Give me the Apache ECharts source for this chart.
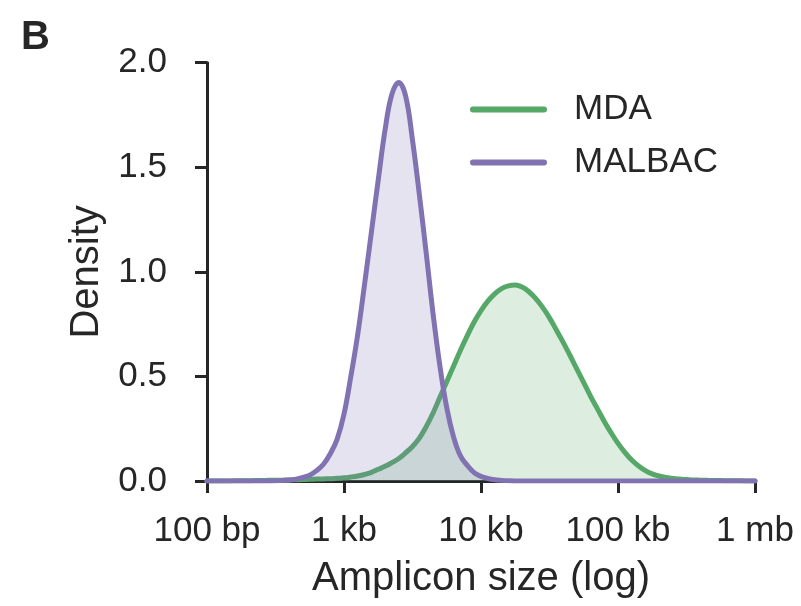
<!DOCTYPE html>
<html>
<head>
<meta charset="utf-8">
<script src="https://cdn.jsdelivr.net/npm/echarts@6/dist/echarts.min.js"></script>
<style>
html,body{margin:0;padding:0;background:#fff;}
#chart{width:801px;height:606px;}
</style>
</head>
<body>
<div id="chart"></div>
<script>
// x positions: log10 of amplicon size (bp)
const logSize = [2.00,2.05,2.10,2.15,2.20,2.25,2.30,2.35,2.40,2.45,
2.50,2.55,2.60,2.65,2.70,2.75,2.80,2.85,2.90,2.95,
3.00,3.05,3.10,3.15,3.20,3.25,3.30,3.35,3.40,3.45,
3.50,3.55,3.60,3.65,3.70,3.75,3.80,3.85,3.90,3.95,
4.00,4.05,4.10,4.15,4.20,4.25,4.30,4.35,4.40,4.45,
4.50,4.55,4.60,4.65,4.70,4.75,4.80,4.85,4.90,4.95,
5.00,5.05,5.10,5.15,5.20,5.25,5.30,5.35,5.40,5.45,
5.50,5.55,5.60,5.65,5.70,5.75,5.80,5.85,5.90,5.95,6.00];

const mdaDensity = [0,0,0,0,0.001,0.001,0.001,0.002,0.002,0.003,
0.003,0.004,0.005,0.006,0.007,0.008,0.009,0.010,0.011,0.013,
0.015,0.019,0.024,0.031,0.041,0.056,0.070,0.088,0.108,0.135,
0.165,0.205,0.260,0.325,0.400,0.475,0.550,0.625,0.695,0.760,
0.815,0.860,0.895,0.920,0.933,0.937,0.927,0.905,0.872,0.830,
0.780,0.722,0.663,0.600,0.535,0.470,0.405,0.345,0.285,0.230,
0.180,0.137,0.100,0.072,0.050,0.034,0.024,0.017,0.012,0.009,
0.007,0.005,0.004,0.003,0.002,0.002,0.001,0.001,0.001,0,0];

const malbacDensity = [0,0,0,0,0,0,0,0,0,0,
0.001,0.003,0.005,0.009,0.017,0.028,0.050,0.080,0.130,0.200,
0.320,0.500,0.700,0.940,1.190,1.440,1.680,1.850,1.905,1.840,
1.630,1.370,1.090,0.800,0.550,0.350,0.210,0.120,0.075,0.040,
0.022,0.012,0.006,0.003,0.001,0,0,0,0,0,
0,0,0,0,0,0,0,0,0,0,
0,0,0,0,0,0,0,0,0,0,
0,0,0,0,0,0,0,0,0,0,0];

const seriesNames = ['MDA', 'MALBAC'];
const xTickValues = [2, 3, 4, 5, 6];
const xTickLabels = ['100 bp', '1 kb', '10 kb', '100 kb', '1 mb'];
const yTickLabels = ['0.0', '0.5', '1.0', '1.5', '2.0'];

const FONT = "'Liberation Sans', Arial, sans-serif";
const TXT = '#262626';
const GREEN = '#55a868';
const PURPLE = '#8172b2';

const pairs = (ys) => logSize.map((x, i) => [x, ys[i]]);

const chart = echarts.init(document.getElementById('chart'), null, {renderer: 'canvas'});
chart.setOption({
  animation: false,
  backgroundColor: '#ffffff',
  textStyle: {fontFamily: FONT, color: TXT},
  title: {
    text: 'B', left: 16, top: 13,
    textStyle: {fontFamily: FONT, fontSize: 40, fontWeight: 'bold', color: TXT}
  },
  grid: {left: 207, right: 46, top: 62.7, bottom: 125},
  legend: {
    orient: 'vertical', left: 470, top: 92, padding: 0,
    itemWidth: 77, itemHeight: 6, itemGap: 18,
    icon: 'path://M3,0 L74,0 A3,3 0 0 1 74,6 L3,6 A3,3 0 0 1 3,0 Z',
    data: seriesNames,
    textStyle: {fontFamily: FONT, fontSize: 35, color: TXT, lineHeight: 35, padding: [0,0,0,22]}
  },
  xAxis: {
    type: 'value', min: 2, max: 6, interval: 1,
    name: 'Amplicon size (log)', nameLocation: 'middle', nameGap: 78,
    nameTextStyle: {fontFamily: FONT, fontSize: 40, color: TXT},
    axisLine: {lineStyle: {color: TXT, width: 3}},
    axisTick: {show: true, inside: false, length: 12, lineStyle: {color: TXT, width: 3}},
    axisLabel: {
      margin: 33, fontFamily: FONT, fontSize: 35, color: TXT, lineHeight: 35,
      formatter: (v) => { const i = xTickValues.indexOf(Math.round(v)); return i >= 0 ? xTickLabels[i] : ''; }
    },
    splitLine: {show: false}
  },
  yAxis: {
    type: 'value', min: 0, max: 2, interval: 0.5,
    name: 'Density', nameLocation: 'middle', nameGap: 100, nameRotate: 90,
    nameTextStyle: {fontFamily: FONT, fontSize: 40, color: TXT},
    axisLine: {show: true, lineStyle: {color: TXT, width: 3}},
    axisTick: {show: true, inside: false, length: 12, lineStyle: {color: TXT, width: 3}},
    axisLabel: {
      margin: 40, fontFamily: FONT, fontSize: 35, color: TXT,
      formatter: (v) => yTickLabels[Math.round(v / 0.5)]
    },
    splitLine: {show: false}
  },
  series: [
    {
      name: seriesNames[0], type: 'line', data: pairs(mdaDensity),
      showSymbol: false, symbol: 'none', smooth: 0.4,
      lineStyle: {color: GREEN, width: 5, cap: 'round', join: 'round'},
      itemStyle: {color: GREEN},
      areaStyle: {color: GREEN, opacity: 0.2},
      z: 2
    },
    {
      name: seriesNames[1], type: 'line', data: pairs(malbacDensity),
      showSymbol: false, symbol: 'none', smooth: 0.4,
      lineStyle: {color: PURPLE, width: 5, cap: 'round', join: 'round'},
      itemStyle: {color: PURPLE},
      areaStyle: {color: PURPLE, opacity: 0.2},
      z: 3
    }
  ]
});
</script>
</body>
</html>
